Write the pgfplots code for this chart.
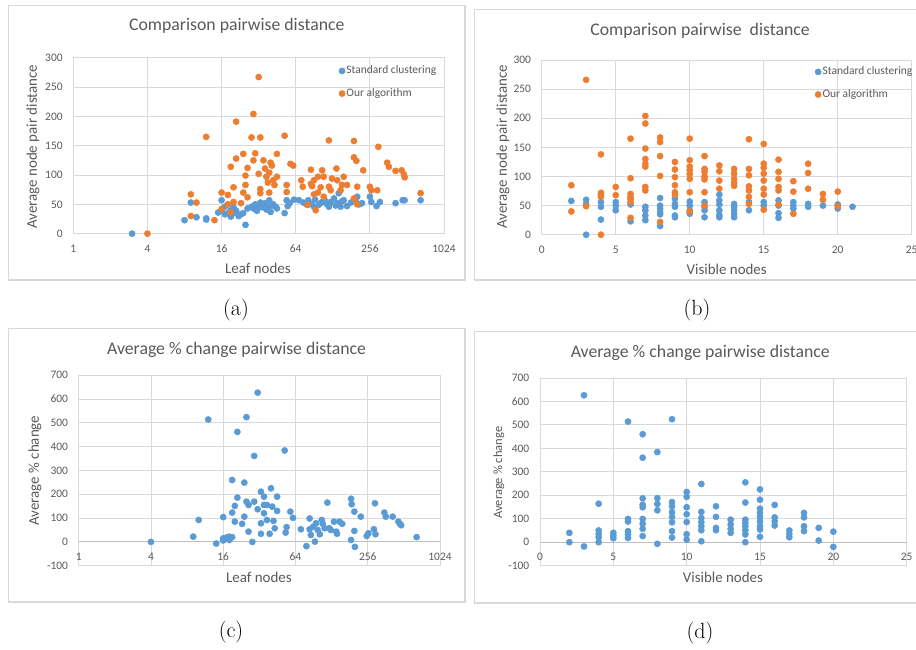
\documentclass[border=0pt]{standalone}
\usepackage{fontspec}
\usepackage{pgfplots}
\pgfplotsset{compat=1.18}
\newfontfamily\calibri{Carlito}
\definecolor{xblue}{HTML}{5B9BD5}
\definecolor{xorange}{HTML}{ED7D31}
\definecolor{xgrid}{HTML}{D9D9D9}
\definecolor{xaxis}{HTML}{BFBFBF}
\definecolor{xtext}{HTML}{595959}
\pgfplotsset{
  exl/.style={
    scale only axis, clip=false,
    axis line style={xgrid, line width=0.6pt, -},
    grid=major, major grid style={xgrid, line width=0.6pt},
    tick style={draw=none}, major tick length=0pt,
    ticklabel style={font=\calibri\fontsize{8.6}{10}\selectfont, text=xtext},
    yticklabel style={xshift=-4.5pt},
    xticklabel style={yshift=-4.7pt},
    every axis title/.style={font=\calibri\fontsize{13.3}{16}\selectfont, text=xtext, anchor=center},
    label style={font=\calibri\fontsize{11.2}{13}\selectfont, text=xtext, anchor=center},
    legend style={draw=none, fill=none, font=\calibri\fontsize{8.6}{10}\selectfont, text=xtext,
      row sep=7.5pt, inner sep=0pt, nodes={inner sep=1pt}, anchor=north west},
    legend cell align=left,
    legend image code/.code={\draw[#1] plot coordinates {(0pt,0pt)};},
    hide obscured x ticks=false, hide obscured y ticks=false,
  },
  sblue/.style={only marks, mark=*, mark size=2.3pt, color=xblue, mark options={fill=xblue, draw=xblue}},
  sorange/.style={only marks, mark=*, mark size=2.3pt, color=xorange, mark options={fill=xorange, draw=xorange}},
}
\begin{document}
\begin{tikzpicture}
\path[use as bounding box] (0pt,0pt) rectangle (687pt,486.75pt);
% frames
\draw[xgrid, line width=0.9pt] (6.2pt,482.5pt) rectangle (348.8pt,276.75pt);
\draw[xgrid, line width=0.9pt] (355.7pt,479.5pt) rectangle (692pt,276.75pt);
\draw[xgrid, line width=0.9pt] (6.2pt,240.2pt) rectangle (348.8pt,35.25pt);
\draw[xgrid, line width=0.9pt] (355.7pt,238.0pt) rectangle (692pt,34.5pt);
% captions
\node[font=\fontsize{16.5}{18}\selectfont] at (177pt,254.25pt) {(a)};
\node[font=\fontsize{16.5}{18}\selectfont] at (522.75pt,254.25pt) {(b)};
\node[font=\fontsize{16.5}{18}\selectfont] at (173.25pt,12.75pt) {(c)};
\node[font=\fontsize{16.5}{18}\selectfont] at (525pt,12pt) {(d)};

% ---------------- (a)
\begin{axis}[exl, at={(55.0pt,311.5pt)}, anchor=south west, width=278pt, height=132pt,
  xmode=log, log basis x=2, xmin=1, xmax=1024,
  xtick={1,4,16,64,256,1024}, xticklabels={1,4,16,64,256,1024},
  ymin=0, ymax=300, ytick={0,50,100,150,200,250,300}, yticklabels={0,50,100,150,200,250,300},
  title={Comparison pairwise distance},
  title style={at={(axis description cs:0.441,1.18)}},
  xlabel={Leaf nodes}, xlabel style={at={(axis description cs:0.498,-0.2)}},
  ylabel={Average node pair distance}, ylabel style={at={(axis description cs:-0.109,0.494)}},
  legend style={at={(axis description cs:0.716,0.962)}},
]
\addplot[sblue] coordinates {(3,0)(8,23)(9,53)(10,28)(12,26)(12,24)(15,36)(16,57)(16,40)(17,46)(17,33)(18,35)(19,29)(19,40)(20,35)(20,45)(21,39)(22,30)(23,33)(24,35)(25,15)(26,43)(28,46)(29,43)(30,50)(31,39)(32,46)(33,53)(34,45)(35,48)(36,52)(37,41)(38,46)(39,57)(40,37)(41,48)(42,50)(44,46)(45,43)(52,35)(54,57)(55,47)(57,52)(62,58)(68,57)(74,53)(78,50)(81,57)(86,50)(90,46)(92,58)(98,49)(102,52)(105,54)(110,57)(115,50)(119,46)(123,54)(131,60)(135,48)(140,52)(143,69)(148,46)(152,55)(157,57)(167,47)(180,53)(196,58)(202,63)(210,50)(221,52)(256,63)(263,54)(290,47)(309,54)(414,52)(473,57)(490,57)(661,57)};
\addlegendentry{Standard clustering}
\addplot[sorange] coordinates {(4,0)(9,67)(9,30)(10,53)(12,165)(14,23)(16,70)(16,42)(18,50)(18,66)(19,114)(19,36)(20,79)(20,54)(21,128)(21,191)(23,52)(24,136)(24,70)(25,83)(25,99)(26,112)(26,62)(28,164)(29,204)(29,125)(30,137)(32,102)(32,267)(33,164)(33,76)(33,69)(35,125)(36,111)(37,97)(38,87)(39,104)(39,70)(40,121)(41,116)(42,91)(43,83)(45,136)(45,97)(52,167)(54,83)(54,71)(58,119)(61,116)(71,91)(73,80)(80,49)(85,109)(85,85)(87,81)(90,91)(90,67)(93,40)(97,70)(97,97)(102,79)(105,108)(108,97)(108,63)(119,159)(119,80)(123,74)(126,94)(137,111)(139,91)(148,74)(152,83)(157,97)(167,83)(190,158)(190,130)(199,124)(190,60)(202,80)(202,50)(226,108)(256,80)(263,74)(294,74)(300,148)(354,121)(365,114)(414,107)(464,108)(484,101)(491,96)(661,69)};
\addlegendentry{Our algorithm}
\end{axis}

% ---------------- (b)
\begin{axis}[exl, at={(406.3pt,310.7pt)}, anchor=south west, width=277.5pt, height=131pt,
  xmin=0, xmax=25, xtick={0,5,10,15,20,25}, xticklabels={0,5,10,15,20,25},
  ymin=0, ymax=300, ytick={0,50,100,150,200,250,300}, yticklabels={0,50,100,150,200,250,300},
  title={Comparison pairwise\ \ distance},
  title style={at={(axis description cs:0.428,1.166)}},
  xlabel={Visible nodes}, xlabel style={at={(axis description cs:0.5,-0.2)}},
  ylabel={Average node pair distance}, ylabel style={at={(axis description cs:-0.105,0.504)}},
  legend style={at={(axis description cs:0.738,0.97)}},
]
\addplot[sblue] coordinates {(2,58)(3,60)(3,53)(3,0)(4,56)(4,48)(4,26)(5,56)(5,50)(5,42)(6,52)(6,23)(7,48)(7,42)(7,33)(7,25)(8,63)(8,50)(8,45)(8,39)(8,35)(8,15)(9,62)(9,53)(9,48)(9,33)(9,30)(10,57)(10,50)(10,42)(10,36)(11,56)(11,48)(11,42)(11,30)(12,69)(12,59)(12,52)(12,42)(12,34)(12,30)(13,53)(13,48)(13,42)(13,36)(13,30)(14,56)(14,42)(15,56)(15,50)(16,59)(16,50)(16,37)(16,29)(17,56)(17,50)(17,45)(18,53)(18,48)(19,50)(20,52)(20,45)(21,48)};
\addlegendentry{Standard clustering}
\addplot[sorange] coordinates {(2,85)(2,40)(3,266)(3,49)(4,138)(4,72)(4,69)(4,65)(4,0)(5,82)(5,68)(6,165)(6,97)(6,70)(6,65)(6,61)(6,56)(6,29)(7,204)(7,191)(7,148)(7,130)(7,122)(7,117)(7,82)(7,76)(8,167)(8,159)(8,135)(8,101)(8,22)(9,125)(9,112)(9,99)(9,85)(9,73)(9,69)(10,165)(10,128)(10,117)(10,111)(10,104)(10,96)(10,73)(10,40)(11,135)(11,113)(11,108)(11,100)(11,95)(11,73)(11,50)(12,119)(12,109)(12,93)(12,79)(13,113)(13,105)(13,96)(13,89)(13,84)(14,164)(14,113)(14,102)(14,83)(14,76)(14,65)(14,53)(15,156)(15,122)(15,115)(15,105)(15,93)(15,79)(15,69)(15,43)(16,129)(16,108)(16,96)(16,82)(16,76)(16,52)(17,92)(17,74)(17,36)(18,122)(18,106)(18,79)(19,70)(19,60)(20,74)(20,49)};
\addlegendentry{Our algorithm}
\end{axis}

% ---------------- (c)
\begin{axis}[exl, at={(59.0pt,62.5pt)}, anchor=south west, width=271pt, height=142.8pt,
  axis x line=middle, axis y line=left,
  x axis line style={xaxis, line width=0.6pt, -}, y axis line style={xgrid, line width=0.6pt, -},
  xmode=log, log basis x=2, xmin=1, xmax=1024,
  xtick={1,4,16,64,256,1024}, xticklabels={1,4,16,64,256,1024},
  ymin=-100, ymax=700, ytick={-100,0,100,200,300,400,500,600,700}, yticklabels={-100,0,100,200,300,400,500,600,700},
  title={Average \% change pairwise distance},
  title style={at={(axis description cs:0.437,1.133)}},
  xlabel={Leaf nodes}, xlabel style={at={(axis description cs:0.499,-0.063)}, anchor=center, font=\calibri\fontsize{11.2}{13}\selectfont, text=xtext},
  ylabel={Average \% change}, ylabel style={at={(axis description cs:-0.121,0.499)}, anchor=center, font=\calibri\fontsize{11.2}{13}\selectfont, text=xtext},
]
\addplot[sblue] coordinates {(4,0)(9,22)(10,92)(12,514)(14,-7)(16,104)(16,15)(16,6)(17,18)(18,8)(18,22)(19,260)(19,123)(19,20)(20,151)(20,85)(21,186)(21,462)(23,76)(24,249)(24,106)(25,524)(25,169)(26,155)(26,43)(28,0)(29,361)(29,169)(31,627)(31,137)(33,211)(33,78)(33,34)(35,190)(35,120)(35,155)(37,155)(37,92)(39,34)(40,225)(41,148)(42,88)(43,57)(45,190)(45,130)(52,384)(53,39)(54,62)(58,127)(61,101)(71,53)(79,-18)(84,98)(84,53)(86,29)(90,64)(93,1)(95,78)(98,50)(102,32)(106,92)(108,76)(112,57)(118,165)(122,57)(126,50)(134,85)(140,43)(142,34)(149,85)(157,76)(186,181)(188,158)(186,8)(198,127)(198,46)(200,-21)(224,106)(251,25)(259,36)(288,53)(294,162)(297,32)(352,123)(362,106)(413,106)(461,85)(475,76)(486,70)(654,20)};
\end{axis}

% ---------------- (d)
\begin{axis}[exl, at={(405.0pt,62.5pt)}, anchor=south west, width=275pt, height=140.8pt,
  axis x line=middle, axis y line=left,
  x axis line style={xaxis, line width=0.6pt, -}, y axis line style={xgrid, line width=0.6pt, -},
  xmin=0, xmax=25, xtick={0,5,10,15,20,25}, xticklabels={0,5,10,15,20,25},
  ymin=-100, ymax=700, ytick={-100,0,100,200,300,400,500,600,700}, yticklabels={-100,0,100,200,300,400,500,600,700},
  title={Average \% change pairwise distance},
  title style={at={(axis description cs:0.437,1.135)}},
  xlabel={Visible nodes}, xlabel style={at={(axis description cs:0.499,-0.064)}, anchor=center, font=\calibri\fontsize{11.2}{13}\selectfont, text=xtext},
  ylabel={Average \% change}, ylabel style={at={(axis description cs:-0.112,0.495)}, anchor=center, font=\calibri\fontsize{9.4}{11}\selectfont, text=xtext},
]
\addplot[sblue] coordinates {(2,40)(2,0)(3,626)(3,-18)(4,164)(4,50)(4,35)(4,21)(4,0)(5,40)(5,28)(5,17)(6,514)(6,99)(6,88)(6,47)(6,33)(6,18)(7,460)(7,360)(7,187)(7,160)(7,149)(7,99)(7,79)(7,57)(7,26)(8,384)(8,188)(8,163)(8,136)(8,-7)(9,524)(9,171)(9,153)(9,128)(9,108)(9,85)(9,47)(9,20)(10,214)(10,193)(10,149)(10,119)(10,86)(10,34)(10,11)(11,248)(11,129)(11,103)(11,85)(11,68)(11,51)(11,4)(12,153)(12,108)(12,61)(12,51)(13,96)(13,75)(13,57)(13,40)(14,255)(14,169)(14,96)(14,82)(14,68)(14,51)(14,33)(14,0)(15,225)(15,181)(15,143)(15,125)(15,108)(15,89)(15,68)(15,54)(15,23)(16,159)(16,106)(16,89)(16,71)(17,50)(17,35)(17,21)(18,125)(18,106)(18,68)(18,47)(19,61)(19,7)(20,45)(20,-20)};
\end{axis}
\end{tikzpicture}
\end{document}
